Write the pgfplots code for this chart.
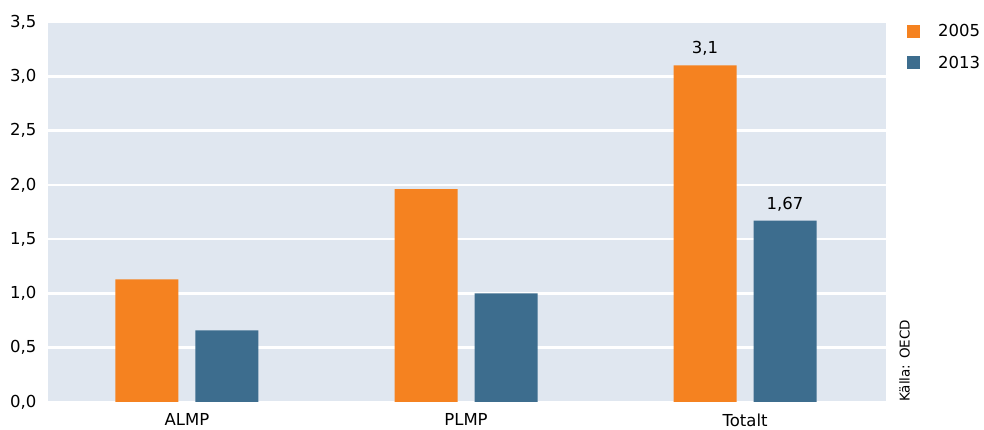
\documentclass[border=0pt]{standalone}
\usepackage{pgfplots}
\pgfplotsset{compat=1.18}
\usepackage{fontspec}
\setmainfont{DejaVu Sans}
\definecolor{orange05}{HTML}{F58220}
\definecolor{blue13}{HTML}{3D6D8E}
\definecolor{bgpanel}{HTML}{E0E7F0}
\begin{document}
\begin{tikzpicture}
\useasboundingbox (-48pt,-28pt) rectangle (936pt,402pt);
\begin{axis}[
    at={(0pt,0pt)}, anchor=south west,
    scale only axis, width=838pt, height=380pt,
    xmin=-0.498, xmax=2.505, ymin=0, ymax=3.5,
    ybar, bar width=63pt,
    axis background/.style={fill=bgpanel},
    axis line style={draw=none},
    tick style={draw=none},
    xtick={0,1,2}, xticklabels={ALMP,PLMP,Totalt},
    ytick={0,0.5,...,3.5},
    ymajorgrids, grid style={white, line width=2.6pt},
    /pgf/number format/fixed, /pgf/number format/fixed zerofill,
    /pgf/number format/precision=1, /pgf/number format/use comma,
    /pgf/number format/assume math mode=true,
    ticklabel style={font=\fontsize{16.5}{19}\selectfont},
    xticklabel style={yshift=-4pt},
    yticklabel style={xshift=-8pt},
    every node near coord/.append style={font=\fontsize{16.5}{19}\selectfont, yshift=6pt},
    nodes near coords, point meta=explicit symbolic,
    legend style={at={(1,1)}, anchor=north west, xshift=18pt, yshift=2pt, draw=none, fill=none,
        font=\fontsize{16.5}{19}\selectfont, row sep=14pt,
        /tikz/every odd column/.append style={column sep=16pt}},
    legend image code/.code={\fill[#1] (0pt,-6.5pt) rectangle (13pt,6.5pt);},
]
\addplot[draw=none, fill=orange05, bar shift=-40pt] coordinates {(0,1.13) [{}] (1,1.96) [{}] (2,3.10) [{3,1}]};
\addplot[draw=none, fill=blue13, bar shift=40pt] coordinates {(0,0.66) [{}] (1,1.00) [{}] (2,1.67) [{1,67}]};
\legend{2005,2013}
\end{axis}
\node[rotate=90, anchor=south west, inner sep=0pt, font=\fontsize{13.5}{16}\selectfont] at (862pt,0pt) {Källa: OECD};
\end{tikzpicture}
\end{document}
